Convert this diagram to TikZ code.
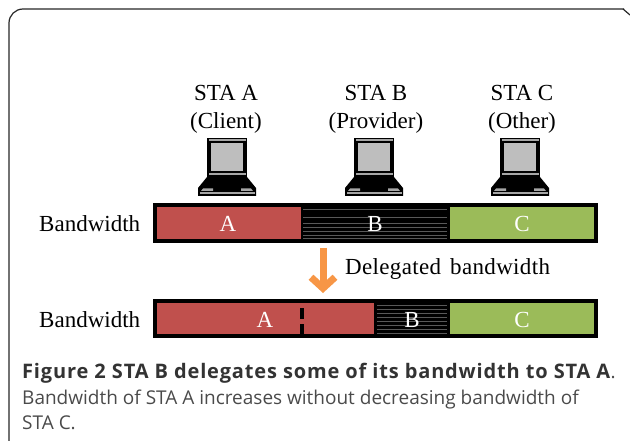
\documentclass[tikz,border=0pt]{standalone}
\usepackage{fontspec}
\setmainfont{Liberation Serif}
\newfontfamily\capfont{Open Sans}
\newfontfamily\capboldfont[LetterSpace=4.2]{Open Sans}
\newfontfamily\delegfont[LetterSpace=1.5]{Liberation Serif}
\usepackage{xcolor}
\usepackage{tikz}
\usetikzlibrary{
  arrows.meta,
  calc
}
\definecolor{barred}{HTML}{C0504D}
\definecolor{bargreen}{HTML}{9BBB59}
\definecolor{arroworange}{HTML}{F79646}
\definecolor{screengray}{HTML}{BEBEBE}
\definecolor{captext}{HTML}{4A4A4A}
\tikzset{
  staname/.style={align=center, font=\fontsize{23}{28}\selectfont, inner sep=0pt},
  rowname/.style={font=\fontsize{23}{24}\selectfont, anchor=west, inner sep=0pt},
  barname/.style={text=white, font=\fontsize{23}{24}\selectfont, inner sep=0pt},
  barframe/.style={draw=black, line width=3.2pt},
  captionline/.style={anchor=base west, inner sep=0pt, text=captext, font=\capfont\fontsize{19}{24}\selectfont},
  laptop/.pic={
    % lid
    \fill [black] (-20,-29) rectangle (20,10);
    \fill [gray!70] (-18.5,-27.5) rectangle (18.5,-25.5);
    \fill [screengray] (-16,-23.5) rectangle (16,4);
    \fill [gray!70] (-18.5,6) rectangle (18.5,8);
    % base
    \fill [black] (-20,10) -- (20,10) -- (29,21) -- (29,29) -- (-29,29) -- (-29,21) -- cycle;
    \fill [gray!70] (-26,24) -- (-14,24) -- (-14,21.5) -- (-24,21.5) -- cycle;
    \fill [gray!70] (26,24) -- (14,24) -- (14,21.5) -- (24,21.5) -- cycle;
    \fill [gray!70] (-27.5,25.5) rectangle (27.5,27.5);
  }
}
\begin{document}
\begin{tikzpicture}[x=1pt, y=-1pt]
      \useasboundingbox (0,0) rectangle (630,441);
      % frame
      \draw [black!85, line width=1.2pt, rounded corners=14pt] (9,441) -- (9,9) -- (624,9);
      \draw [black!85, line width=1.2pt] (623,9) -- (630,15);
      % titles
      \node [staname] (staa) at (226,109) {STA A\\(Client)};
      \node [staname] (stab) at (376,109) {STA B\\(Provider)};
      \node [staname] (stac) at (522,109) {STA C\\(Other)};
      \pic at (227,167) {laptop};
      \pic at (374,167) {laptop};
      \pic at (520,167) {laptop};
      % upper bar
      \node [rowname] (rowa) at (39,224) {Bandwidth};
      \fill [barred] (154,205) rectangle (301,241);
      \fill [black] (301,205) rectangle (450,241);
      \foreach \y in {209,217,223,227,231,235,238}
        \draw [black!65, line width=0.5pt] (303,\y) -- (447,\y);
      \fill [bargreen] (450,205) rectangle (596,241);
      \draw [barframe] (155,205) rectangle (596,241);
      \node [barname] (a1) at (228,224) {A};
      \node [barname] (b1) at (375,224) {B};
      \node [barname] (c1) at (522,224) {C};
      % arrow
      \coordinate (top) at (323,248);
      \coordinate (tip) at (323,293);
      \draw [arroworange, line width=7pt, -{Straight Barb[length=11pt, width=24pt, line width=7pt]}] (top) -- (tip);
      \node [anchor=west, inner sep=0pt, font=\delegfont\fontsize{23}{24}\selectfont] (deleg) at (345,269) {Delegated\hspace{9pt}bandwidth};
      % lower bar
      \node [rowname] (rowb) at (39,320) {Bandwidth};
      \fill [barred] (154,300) rectangle (374,337);
      \fill [black] (374,300) rectangle (450,337);
      \foreach \y in {305,309,...,333}
        \draw [black!65, line width=0.5pt] (377,\y) -- (447,\y);
      \fill [bargreen] (450,300) rectangle (596,337);
      \draw [barframe] (155,301) rectangle (596,336);
      \draw [black, line width=3.2pt, dash pattern=on 11pt off 5pt] (302,308) -- (302,336);
      \node [barname] (a2) at (265,320) {A};
      \node [barname] (b2) at (412,320) {B};
      \node [barname] (c2) at (522,320) {C};
      % caption
      \node [anchor=base west, inner sep=0pt, text=black!80, font=\capboldfont\bfseries\fontsize{20}{24}\selectfont] (fig) at (22,378) {Figure 2 STA B delegates some of its bandwidth to STA A};
      \node [captionline] (dot) at (fig.base east) {.};
      \node [captionline] (capb) at (22,404) {Bandwidth of STA A increases without decreasing bandwidth of};
      \node [captionline] (capc) at (22,429) {STA C.};
    \end{tikzpicture}
\end{document}
